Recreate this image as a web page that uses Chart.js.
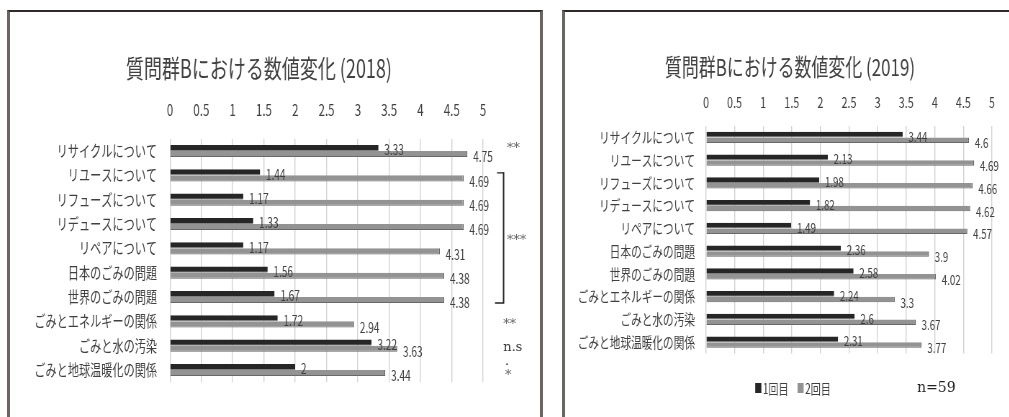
<!DOCTYPE html>
<html lang="ja">
<head>
<meta charset="utf-8">
<title>質問群Bにおける数値変化</title>
<script src="https://cdn.jsdelivr.net/npm/chart.js@4/dist/chart.umd.min.js"></script>
<style>
  html, body { margin: 0; padding: 0; background: #fff; }
  body { width: 1009px; height: 417px; position: relative; overflow: hidden; }
  .panel { position: absolute; top: 10px; height: 430px; box-sizing: border-box;
           border-top: 2px solid #2e2a2a; border-left: 3px solid #6b6562; }
  #panel2018 { left: 7px; width: 536px; border-right: 3px solid #6b6562; }
  #panel2019 { left: 562px; width: 470px; }
  /* the source picture is squeezed sideways, so each chart is drawn wide and squeezed */
  canvas { position: absolute; top: 12px; transform-origin: 0 0; transform: scaleX(0.72); }
  #chart2018 { left: 10px; }
  #chart2019 { left: 565px; }
</style>
</head>
<body>
<div class="panel" id="panel2018"></div>
<div class="panel" id="panel2019"></div>
<canvas id="chart2018" width="736" height="405"></canvas>
<canvas id="chart2019" width="628" height="405"></canvas>
<script>
const SQUEEZE = 0.72;
const FONT = "'Noto Sans CJK JP', 'Noto Sans', sans-serif";
const SERIF = "'DejaVu Serif', 'Liberation Serif', serif";
const INK = '#404040';

const TOPICS = [
  'リサイクルについて', 'リユースについて', 'リフューズについて', 'リデュースについて',
  'リペアについて', '日本のごみの問題', '世界のごみの問題', 'ごみとエネルギーの関係',
  'ごみと水の汚染', 'ごみと地球温暖化の関係'
];
const X_TICKS = ['0', '0.5', '1', '1.5', '2', '2.5', '3', '3.5', '4', '4.5', '5'];
const SERIES_NAMES = ['1回目', '2回目'];

// 2018
const FIRST_2018  = [3.33, 1.44, 1.17, 1.33, 1.17, 1.56, 1.67, 1.72, 3.22, 2];
const SECOND_2018 = [4.75, 4.69, 4.69, 4.69, 4.31, 4.38, 4.38, 2.94, 3.63, 3.44];
// significance marks next to the 2018 rows
const SIG_ROWS  = [0, 7, 8, 9];
const SIG_TEXTS = [['**'], ['**'], ['n.s', '.'], ['*']];
const BRACKET_ROWS = [1, 6];
const BRACKET_TEXT = '***';

// 2019
const FIRST_2019  = [3.44, 2.13, 1.98, 1.82, 1.49, 2.36, 2.58, 2.24, 2.6, 2.31];
const SECOND_2019 = [4.6, 4.69, 4.66, 4.62, 4.57, 3.9, 4.02, 3.3, 3.67, 3.77];
const N_NOTE = 'n=59';

// draw text at normal width on a squeezed canvas
function plainText(ctx, text, x, y) {
  ctx.save();
  ctx.translate(x, y);
  ctx.scale(1 / SQUEEZE, 1);
  ctx.fillText(text, 0, 0);
  ctx.restore();
}

const annotate = {
  id: 'annotate',
  afterDatasetsDraw(chart, args, o) {
    const { ctx, chartArea } = chart;
    const yScale = chart.scales.y;
    ctx.save();
    ctx.textBaseline = 'middle';

    // title
    ctx.fillStyle = INK;
    ctx.textAlign = 'center';
    ctx.font = `${o.title.size}px ${FONT}`;
    ctx.fillText(o.title.text, o.title.x, o.title.y);

    // values at bar ends
    ctx.textAlign = 'left';
    ctx.font = `${o.valueSize}px ${FONT}`;
    chart.data.datasets.forEach((ds, di) => {
      chart.getDatasetMeta(di).data.forEach((bar, i) => {
        ctx.fillText(String(ds.data[i]), bar.x + 8, bar.y + (di ? 3 : 2));
      });
    });

    // significance marks
    if (o.sig) {
      const r = chartArea.right;
      ctx.font = `13px ${SERIF}`;
      const nudge = [[33, -2.5], [28, 3], [28, 2], [30.5, 5.5]];
      SIG_ROWS.forEach((row, k) => {
        const y0 = yScale.getPixelForValue(row);
        SIG_TEXTS[k].forEach((t, li) => {
          ctx.fillStyle = t.includes('*') ? '#666' : '#333';
          plainText(ctx, t, r + nudge[k][0] + (li ? 2.5 : 0), y0 + nudge[k][1] + li * 13.5);
        });
      });
      const top = yScale.getPixelForValue(BRACKET_ROWS[0]) - 2.5;
      const bot = yScale.getPixelForValue(BRACKET_ROWS[1]) + 6;
      ctx.strokeStyle = '#222';
      ctx.lineWidth = 1.3;
      ctx.beginPath();
      ctx.moveTo(r + 19.5, top); ctx.lineTo(r + 28.5, top);
      ctx.moveTo(r + 16.5, bot); ctx.lineTo(r + 28.5, bot);
      ctx.stroke();
      ctx.lineWidth = 2;
      ctx.beginPath();
      ctx.moveTo(r + 28.5, top - 0.6); ctx.lineTo(r + 28.5, bot + 0.6);
      ctx.stroke();
      ctx.fillStyle = '#666';
      plainText(ctx, BRACKET_TEXT, r + 33, (top + bot) / 2 + 3);
    }

    // legend and n note
    if (o.legend) {
      ctx.font = `14px ${FONT}`;
      const ds = chart.data.datasets;
      const boxW = 8.5, boxH = 10, gap = 2, sep = 12.5;
      const widths = ds.map(d => ctx.measureText(d.label).width);
      const total = widths.reduce((a, w) => a + boxW + gap + w, 0) + sep * (ds.length - 1);
      let x = o.legend.cx - total / 2;
      const y = o.legend.y;
      ds.forEach((d, i) => {
        ctx.fillStyle = d.backgroundColor;
        ctx.fillRect(x, y - boxH / 2, boxW, boxH);
        x += boxW + gap;
        ctx.fillStyle = INK;
        ctx.fillText(d.label, x, y + 1);
        x += widths[i] + sep;
      });
      ctx.fillStyle = '#222';
      ctx.font = `14px ${SERIF}`;
      plainText(ctx, N_NOTE, o.legend.noteX, y);
    }
    ctx.restore();
  }
};

function barChart(canvasId, first, second, L, extra) {
  return new Chart(document.getElementById(canvasId), {
    type: 'bar',
    data: {
      labels: TOPICS,
      datasets: [
        { label: SERIES_NAMES[0], data: first, backgroundColor: '#262626', borderColor: '#808080',
          borderWidth: { top: 0, right: 0, bottom: 1, left: 0 }, borderSkipped: false,
          categoryPercentage: 0.5, barPercentage: 1 },
        { label: SERIES_NAMES[1], data: second, backgroundColor: '#939393', borderColor: '#686868',
          borderWidth: { top: 0, right: 1.4, bottom: 1, left: 0 }, borderSkipped: false,
          categoryPercentage: 0.5, barPercentage: 1 }
      ]
    },
    options: {
      indexAxis: 'y',
      responsive: false,
      animation: false,
      events: [],
      layout: { padding: L.padding },
      plugins: {
        legend: { display: false },
        title: { display: false },
        tooltip: { enabled: false },
        annotate: extra
      },
      scales: {
        x: {
          position: 'top', min: 0, max: 5,
          ticks: { stepSize: 0.5, padding: L.tickPad, color: INK,
                   font: { family: FONT, size: L.tickSize }, callback: (v, i) => X_TICKS[i] },
          grid: { color: '#d2d2d2', lineWidth: 1.4, drawTicks: false },
          border: { display: false },
          afterFit: a => { a.height = L.top; }
        },
        y: {
          ticks: { padding: L.labelPad, color: INK, autoSkip: false,
                   font: { family: FONT, size: L.labelSize } },
          grid: { display: false, drawTicks: false },
          border: { display: false },
          afterFit: a => { a.width = L.axisWidth; }
        }
      }
    },
    plugins: [annotate]
  });
}

// ===== 2018 =====
barChart('chart2018', FIRST_2018, SECOND_2018,
  { padding: { left: 0, right: 79, top: 0, bottom: 34.8 }, top: 126.8, axisWidth: 222.2,
    tickPad: 19.2, tickSize: 16, labelPad: 18, labelSize: 15.5 },
  { title: { text: '質問群Bにおける数値変化 (2018)', x: 345.8, y: 56, size: 25 },
    valueSize: 14, sig: true });

// ===== 2019 =====
barChart('chart2019', FIRST_2019, SECOND_2019,
  { padding: { left: 0, right: 35, top: 0, bottom: 63.5 }, top: 114, axisWidth: 195.8,
    tickPad: 15, tickSize: 15, labelPad: 15.3, labelSize: 14.8 },
  { title: { text: '質問群Bにおける数値変化 (2019)', x: 312.5, y: 55, size: 23.5 },
    valueSize: 13.5, legend: { cx: 316.7, y: 376, noteX: 489 } });
</script>
</body>
</html>
